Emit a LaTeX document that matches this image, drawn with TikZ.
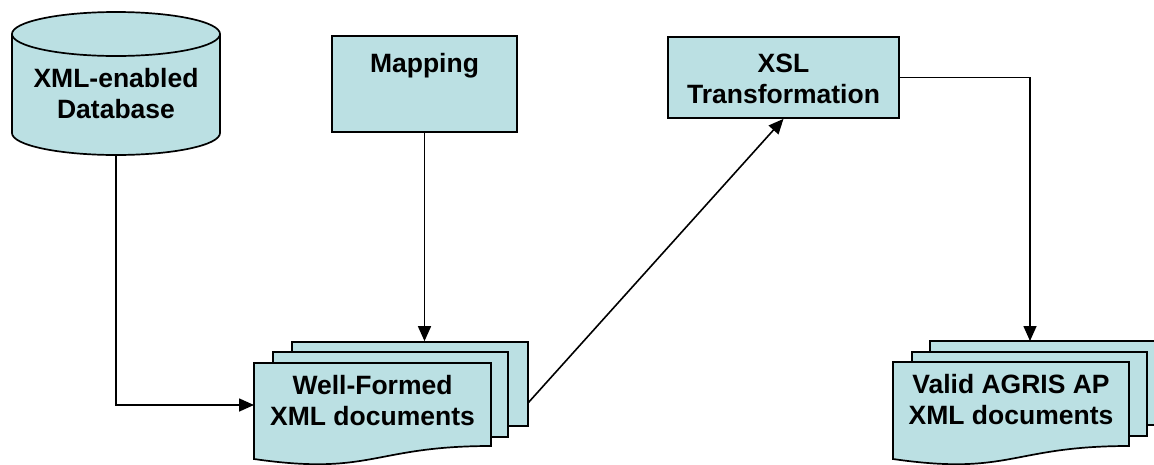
\documentclass[tikz,border=0pt]{standalone}
\usepackage{fontspec}
\setmainfont{Liberation Sans}
\usetikzlibrary{arrows.meta}
\definecolor{boxfill}{HTML}{BBE0E3}
\begin{document}
\begin{tikzpicture}[x=1pt,y=1pt,
  shapefill/.style={fill=boxfill,draw=black,line width=1.7pt},
  lbl/.style={font=\bfseries\fontsize{26.5}{31}\selectfont,align=center,inner sep=0pt},
  conn/.style={line width=1.6pt,-{Triangle[length=15pt,width=13pt]}}]
\useasboundingbox (0,0) rectangle (1154,-464);
\clip (0,0) rectangle (1154,-464);

% ---- database cylinder ----
\path[shapefill] (12,-34) -- (12,-133)
  arc[start angle=180,end angle=360,x radius=104pt,y radius=22pt]
  -- (220,-34)
  arc[start angle=0,end angle=180,x radius=104pt,y radius=22pt] -- cycle;
\draw[line width=1.7pt] (12,-34) arc[start angle=180,end angle=360,x radius=104pt,y radius=22pt];
\node[minimum width=208pt,minimum height=144pt,inner sep=0pt] (db) at (116,-84) {};
\node[lbl,anchor=base] (dbtext) at (116,-118) {XML-enabled\\Database};

% ---- mapping ----
\node[shapefill,minimum width=185pt,minimum height=96pt,inner sep=0pt] (map) at (424.5,-84) {};
\node[lbl,anchor=base] (maptext) at (424.5,-72) {Mapping};

% ---- XSL ----
\node[shapefill,minimum width=231pt,minimum height=81pt,inner sep=0pt] (xsl) at (783.5,-77.5) {};
\node[lbl,anchor=base] (xsltext) at (783.5,-103) {XSL\\Transformation};

% ---- well-formed documents ----
\node[shapefill,minimum width=236pt,minimum height=84pt,inner sep=0pt] (wf3) at (410,-384) {};
\node[shapefill,minimum width=235pt,minimum height=85pt,inner sep=0pt] (wf2) at (390.5,-394.5) {};
\path[shapefill] (254,-363) -- (491,-363) -- (491,-446)
  .. controls (372.5,-446) and (372.5,-476) .. (254,-459) -- cycle;
\node[lbl,anchor=base] (wf) at (372.5,-425) {Well-Formed\\XML documents};

% ---- valid documents ----
\node[shapefill,minimum width=236pt,minimum height=84pt,inner sep=0pt] (va3) at (1048,-383) {};
\node[shapefill,minimum width=235pt,minimum height=84pt,inner sep=0pt] (va2) at (1029.5,-394) {};
\path[shapefill] (893,-362) -- (1129,-362) -- (1129,-446)
  .. controls (1011,-446) and (1011,-476) .. (893,-459) -- cycle;
\node[lbl,anchor=base] (va) at (1011,-424) {Valid AGRIS AP\\XML documents};

% ---- connectors ----
\coordinate (wfin) at (254,-405);
\coordinate (wfout) at (528,-403);
\coordinate (vain) at (1030,-341);
\draw[conn] (db.south) |- (wfin);
\draw[conn] (map.south) -- (map.south |- wf3.north);
\draw[conn] (wfout) -- (xsl.south);
\draw[conn] (xsl.east) -| (vain);
\end{tikzpicture}
\end{document}
